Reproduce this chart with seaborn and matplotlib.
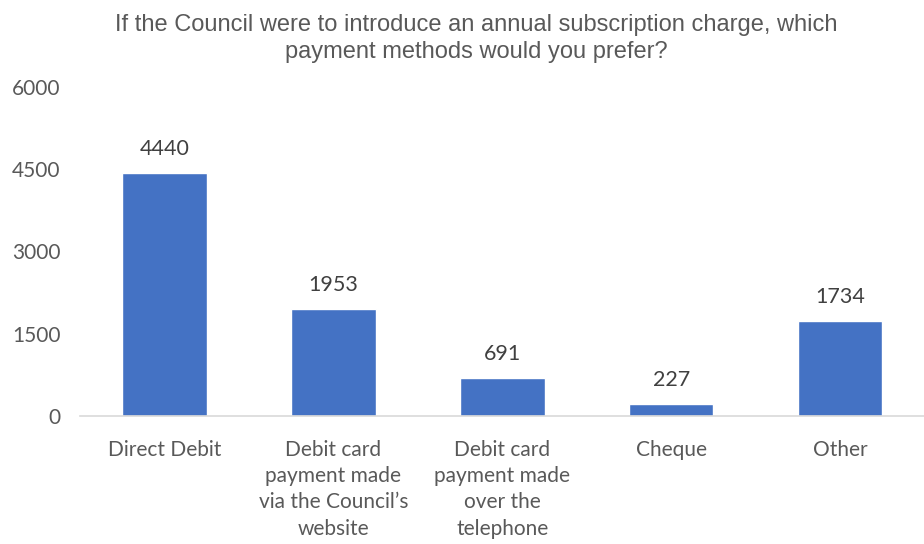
import matplotlib
matplotlib.use("Agg")
import matplotlib.pyplot as plt
import seaborn as sns
import pandas as pd

categories = [
    "Direct Debit",
    "Debit card\npayment made\nvia the Council\u2019s\nwebsite",
    "Debit card\npayment made\nover the\ntelephone",
    "Cheque",
    "Other",
]
responses = [4440, 1953, 691, 227, 1734]
y_ticks = [0, 1500, 3000, 4500, 6000]
title = ("If the Council were to introduce an annual subscription charge, which\n"
         "payment methods would you prefer?")

df = pd.DataFrame({"method": categories, "count": responses})

sns.set_theme(style="white")
plt.rcParams["font.family"] = ["Lato", "DejaVu Sans"]

fig = plt.figure(figsize=(9.24, 5.44), dpi=100)
ax = fig.add_axes([0.0866, 0.2353, 0.914, 0.6048])

sns.barplot(data=df, x="method", y="count", color="#4472C4",
            width=0.5, saturation=1, ax=ax)

ax.set_ylim(0, 6000)
ax.set_yticks(y_ticks)
ax.set_yticklabels([str(t) for t in y_ticks])
ax.set_xlabel("")
ax.set_ylabel("")

for s in ["top", "right", "left"]:
    ax.spines[s].set_visible(False)
ax.spines["bottom"].set_color("#D9D9D9")
ax.spines["bottom"].set_linewidth(1.2)

ax.tick_params(axis="y", length=0, pad=14, labelsize=15, labelcolor="#595959")
ax.tick_params(axis="x", length=0, pad=17, labelsize=15, labelcolor="#595959")
for lbl in ax.get_xticklabels():
    lbl.set_linespacing(1.4)

for i, v in enumerate(responses):
    ax.annotate(str(v), (i, v), xytext=(0, 10), textcoords="offset points",
                ha="center", va="bottom", fontsize=15.5, color="#404040")

fig.text(476 / 924, 1 - 14 / 544, title, ha="center", va="top",
         fontsize=17, color="#595959", family=["Liberation Sans", "DejaVu Sans"],
         linespacing=1.3)

fig.savefig("out.png", dpi=100, facecolor="white")
